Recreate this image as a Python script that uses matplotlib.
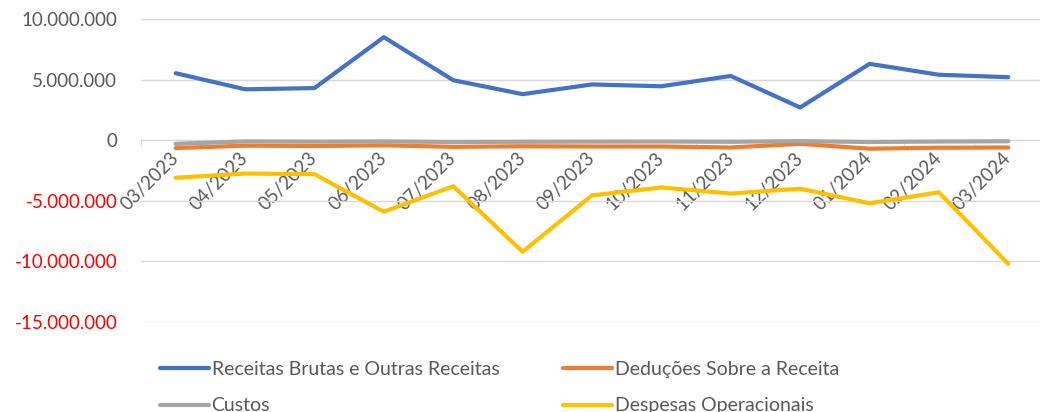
import matplotlib
matplotlib.use("Agg")
import matplotlib.pyplot as plt
from matplotlib.ticker import FuncFormatter, FixedLocator

months = ["03/2023", "04/2023", "05/2023", "06/2023", "07/2023", "08/2023", "09/2023",
          "10/2023", "11/2023", "12/2023", "01/2024", "02/2024", "03/2024"]
receitas = [5530000, 4200000, 4300000, 8500000, 4950000, 3800000, 4600000,
            4450000, 5300000, 2700000, 6300000, 5400000, 5200000]
deducoes = [-650000, -450000, -480000, -420000, -550000, -500000, -520000,
            -520000, -600000, -300000, -700000, -620000, -600000]
custos = [-300000, -100000, -120000, -100000, -150000, -130000, -120000,
          -110000, -130000, -80000, -150000, -110000, -90000]
despesas = [-3100000, -2750000, -2800000, -5900000, -3800000, -9200000, -4550000,
            -3900000, -4400000, -4000000, -5200000, -4300000, -10200000]
series_names = ["Receitas Brutas e Outras Receitas", "Deduções Sobre a Receita",
                "Custos", "Despesas Operacionais"]
colors = ["#4472C4", "#ED7D31", "#A5A5A5", "#FFC000"]
yticks = [-15000000, -10000000, -5000000, 0, 5000000, 10000000]

plt.rcParams['font.family'] = ['Lato', 'DejaVu Sans']
fig = plt.figure(figsize=(10.4, 4.12), dpi=100)
ax = fig.add_axes([141/1040, (412-322)/412, 902/1040, 303/412])

x = list(range(len(months)))
lines = []
for data, name, c in zip([receitas, deducoes, custos, despesas], series_names, colors):
    ln, = ax.plot(x, data, color=c, lw=3, label=name, solid_capstyle='round',
                  solid_joinstyle='round', zorder=5)
    lines.append(ln)

ax.set_xlim(-0.5, len(months) - 0.5)
ax.set_ylim(-15000000, 10000000)
ax.set_yticks(yticks)
ax.yaxis.set_major_formatter(FuncFormatter(lambda v, p: f"{int(v):,}".replace(",", ".")))
ax.grid(axis='y', color='#D9D9D9', lw=1)
ax.set_axisbelow(True)
for s in ['top', 'right', 'left']:
    ax.spines[s].set_visible(False)
ax.spines['bottom'].set_position(('data', 0))
ax.spines['bottom'].set_color('#D9D9D9')
ax.tick_params(axis='y', length=0, labelsize=13.5, labelcolor='#595959', pad=17)
for lab, v in zip(ax.get_yticklabels(), yticks):
    if v < 0:
        lab.set_color('#FF0000')

ax.set_xticks(x)
ax.set_xticklabels(months, rotation=45, ha='right', va='center', rotation_mode='anchor')
ax.tick_params(axis='x', which='major', length=0, labelsize=13.5, labelcolor='#595959', pad=11)
ax.xaxis.set_minor_locator(FixedLocator([i + 0.5 for i in range(-1, len(months))]))
ax.tick_params(axis='x', which='minor', length=4, color='#D9D9D9', direction='out')

order = [0, 2, 1, 3]
fig.legend(handles=[lines[i] for i in order], loc='upper left',
           bbox_to_anchor=(160/1040, 1 - 361/412),
           ncol=2, frameon=False, fontsize=14, handlelength=2.5, handletextpad=0.15,
           columnspacing=3.3, labelspacing=1.0, labelcolor='#595959', borderaxespad=0,
           borderpad=0)

fig.savefig("out.png", dpi=100)
